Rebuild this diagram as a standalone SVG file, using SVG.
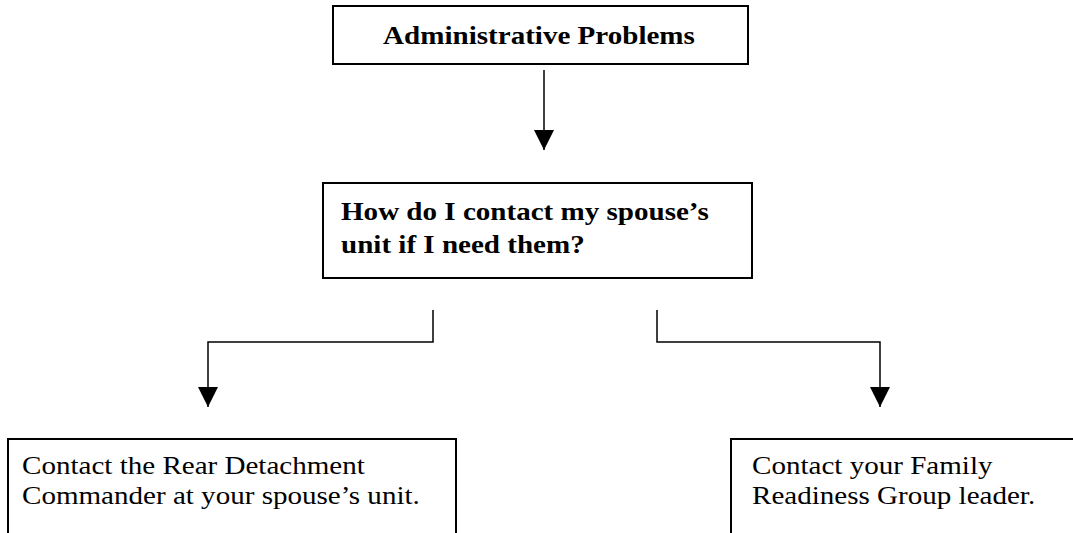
<svg xmlns="http://www.w3.org/2000/svg" width="1073" height="533" viewBox="0 0 1073 533">
  <style>
    .box { fill: #ffffff; stroke: #000000; stroke-width: 2; }
    .wire { fill: none; stroke: #000000; stroke-width: 1.5; }
    .bold { font-family: "Liberation Serif", "Times New Roman", serif; font-weight: bold; font-size: 25.5px; fill: #000000; }
    .plain { font-family: "Liberation Serif", "Times New Roman", serif; font-size: 25.5px; fill: #000000; }
  </style>
  <defs>
    <marker id="arrow" markerWidth="22" markerHeight="22" refX="20" refY="10" orient="auto" markerUnits="userSpaceOnUse">
      <path d="M0,0 L20,10 L0,20 Z" fill="#000000"/>
    </marker>
  </defs>
  <rect width="1073" height="533" fill="#ffffff"/>

  <g id="connectors">
    <line class="wire" x1="544" y1="70" x2="544" y2="150" marker-end="url(#arrow)"/>
    <polyline class="wire" points="433,310 433,342 208,342 208,407" marker-end="url(#arrow)"/>
    <polyline class="wire" points="657,310 657,342 880,342 880,407" marker-end="url(#arrow)"/>
  </g>

  <g id="admin-problems">
    <rect class="box" x="333" y="6" width="415" height="58"/>
    <text class="bold" transform="translate(539,44) scale(1.14,1)" text-anchor="middle">Administrative Problems</text>
  </g>

  <g id="contact-unit-question">
    <rect class="box" x="323" y="183" width="429" height="95"/>
    <text class="bold" transform="translate(341,220) scale(1.14,1)">How do I contact my spouse’s</text>
    <text class="bold" transform="translate(341,253) scale(1.14,1)">unit if I need them?</text>
  </g>

  <g id="rear-detachment">
    <rect class="box" x="8" y="439" width="448" height="110"/>
    <text class="plain" transform="translate(22,474) scale(1.14,1)">Contact the Rear Detachment</text>
    <text class="plain" transform="translate(22,504) scale(1.14,1)">Commander at your spouse’s unit.</text>
  </g>

  <g id="family-readiness">
    <rect class="box" x="731" y="439" width="360" height="110"/>
    <text class="plain" transform="translate(752,474) scale(1.14,1)">Contact your Family</text>
    <text class="plain" transform="translate(752,504) scale(1.14,1)">Readiness Group leader.</text>
  </g>
</svg>
